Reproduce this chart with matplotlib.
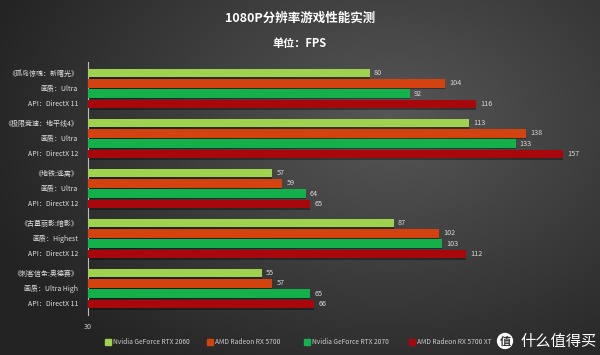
import numpy as np
import matplotlib
matplotlib.use("Agg")
import matplotlib.pyplot as plt
from matplotlib.transforms import blended_transform_factory

plt.rcParams['font.family'] = ['Noto Sans CJK SC', 'DejaVu Sans']

games = ["《孤岛惊魂：新曙光》", "《极限竞速：地平线4》", "《地铁:逃离》", "《古墓丽影:暗影》", "《刺客信条:奥德赛》"]
quality = ["画质：Ultra", "画质：Ultra", "画质：Ultra", "画质：Highest", "画质：Ultra High"]
api = ["API：DirectX 11", "API：DirectX 12", "API：DirectX 12", "API：DirectX 12", "API：DirectX 11"]
series = ["Nvidia GeForce RTX 2060", "AMD Radeon RX 5700", "Nvidia GeForce RTX 2070", "AMD Radeon RX 5700 XT"]
rtx2060 = [80, 113, 57, 87, 55]
rx5700 = [104, 138, 59, 102, 57]
rtx2070 = [92, 133, 64, 103, 65]
rx5700xt = [116, 157, 65, 112, 66]
values = [rtx2060, rx5700, rtx2070, rx5700xt]
colors = ["#9fd24f", "#d4420f", "#14b04a", "#a8070b"]
xmin = 30

W, H = 600, 355
fig = plt.figure(figsize=(6, 3.55), dpi=100)

# background radial gradient
bg = fig.add_axes([0, 0, 1, 1], zorder=-10)
yy, xx = np.mgrid[0:H, 0:W]
d = np.sqrt(((xx - 390) / 420.0) ** 2 + ((yy - 120) / 300.0) ** 2)
v = 0.34 - 0.20 * np.clip(d, 0, 1)
img = np.dstack([v, v, v])
bg.imshow(img, extent=[0, W, H, 0], aspect='auto')
bg.set_xlim(0, W); bg.set_ylim(H, 0)
bg.axis('off')

ax = fig.add_axes([88 / W, 1 - 315 / H, 498 / W, (315 - 62) / H])
ax.set_facecolor('none')
ax.set_xscale('log')
ax.set_xlim(xmin, 170)
ax.set_ylim(4.53, -0.53)

ng = len(games)
yc = np.arange(ng)
offs = np.array([-1.5, -0.5, 0.5, 1.5]) * 0.207
bh = 0.172
for i, (vals, c) in enumerate(zip(values, colors)):
    y = yc + offs[i]
    widths = np.array(vals) - xmin
    ax.barh(y + 0.03, widths, left=xmin, height=bh, color='black', alpha=0.35, zorder=2)
    ax.barh(y, widths, left=xmin, height=bh, color=c, zorder=3)
    for yi, vi in zip(y, vals):
        ax.annotate(str(vi), (vi, yi), xytext=(3, 0), textcoords='offset points',
                    va='center', ha='left', fontsize=5.2, color='#d8d8d8')

for s in ['top', 'right', 'bottom']:
    ax.spines[s].set_visible(False)
ax.spines['left'].set_color('#bbbbbb')
ax.spines['left'].set_linewidth(0.8)
ax.set_yticks([])
ax.set_xticks([xmin])
ax.set_xticks([], minor=True)
ax.xaxis.set_major_formatter(matplotlib.ticker.FixedFormatter(['30']))
ax.tick_params(axis='x', length=0, labelsize=5.2, labelcolor='#cccccc', pad=6)

tr = blended_transform_factory(ax.transAxes, ax.transData)
for g in range(ng):
    for k, t in enumerate([games[g], quality[g], api[g]]):
        ax.text(-0.02, g + (k - 1) * 0.3, t, transform=tr, ha='right', va='center',
                fontsize=5, color='#e0e0e0')

fig.text(0.5, 1 - 18 / H, "1080P分辨率游戏性能实测", ha='center', va='center',
         fontsize=9, fontweight='bold', color='white')
fig.text(0.5, 1 - 44 / H, "单位：FPS", ha='center', va='center',
         fontsize=8, fontweight='bold', color='white')

# legend
lx = [108, 210, 307, 412]
for x, c, s in zip(lx, colors, series):
    fig.patches.append(plt.Rectangle(((x - 3) / W, 1 - 345 / H), 6 / W, 6 / H,
                                     transform=fig.transFigure, color=c, figure=fig))
    fig.text((x + 5) / W, 1 - 342 / H, s, ha='left', va='center', fontsize=4.8, color='#cccccc')

# watermark
fig.text(505 / W, 1 - 341 / H, "值", ha='center', va='center', fontsize=8, fontweight='bold',
         color='#333333', bbox=dict(boxstyle='circle,pad=0.15', fc='white', ec='none'), zorder=5)
fig.text(520 / W, 1 - 341 / H, "什么值得买", ha='left', va='center', fontsize=11, color='white',
         zorder=5)

fig.savefig("out.png", dpi=100)
